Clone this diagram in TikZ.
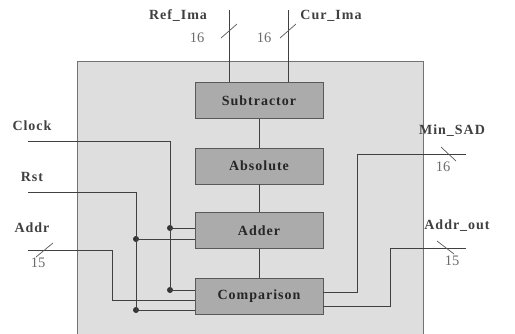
\documentclass[tikz,border=0pt]{standalone}
\usepackage{fontspec}
\setmainfont{Liberation Serif}
\newfontfamily\lsfont[LetterSpace=7]{Liberation Serif}
\begin{document}
\begin{tikzpicture}[x=1pt,y=-1pt,
  blk/.style={draw=black!65, line width=0.8pt, fill=black!33, minimum width=128pt, minimum height=36pt, inner sep=0pt,
    font=\lsfont\fontsize{14}{16}\selectfont\bfseries, text=black!85},
  wire/.style={draw=black!75, line width=0.9pt},
  lbl/.style={font=\lsfont\fontsize{14}{16}\selectfont\bfseries, text=black!75, inner sep=0pt},
  num/.style={font=\fontsize{14.5}{16}\selectfont, text=black!58, inner sep=0pt},
  dot/.style={circle, fill=black!80, inner sep=0pt, minimum size=6pt},
  tick/.style={draw=black!65, line width=0.7pt}]
\useasboundingbox (0,0) rectangle (515,333);
% outer box
\path[draw=black!55, fill=black!13, line width=0.9pt] (77,61) rectangle (423,340);
% blocks
\node[blk] (sub) at (259,100.5) {Subtractor};
\node[blk] (abs) at (259,166) {Absolute};
\node[blk] (add) at (259,230.5) {Adder};
\node[blk] (cmp) at (259,296) {Comparison};
\draw[wire] (sub) -- (abs);
\draw[wire] (abs) -- (add);
\draw[wire] (add) -- (cmp);
% top inputs
\coordinate (refin) at (229,10);
\coordinate (curin) at (288,10);
\draw[wire] (refin) -- (refin |- sub.north);
\draw[wire] (curin) -- (curin |- sub.north);
\draw[tick] (221,38) -- (237,24);
\draw[tick] (280,38) -- (296,24);
\node[lbl] (lref) at (178,16) {Ref\_Ima};
\node[lbl] (lcur) at (331,16) {Cur\_Ima};
\node[num] (n1) at (197,38) {16};
\node[num] (n2) at (264,38) {16};
% left inputs
\coordinate (clkin) at (28,141);
\coordinate (rstin) at (28,192);
\coordinate (addrin) at (28,250);
\node[dot] (d1) at (170,228) {};
\node[dot] (d2) at (170,290) {};
\node[dot] (d3) at (136,239) {};
\node[dot] (d4) at (136,310) {};
\coordinate (addrbend) at (112,250);
\coordinate (addrcmp) at (195,300.7);
\draw[wire] (clkin) -| (d2.center) -- (d2 -| cmp.west);
\draw[wire] (d1.center) -- (d1 -| add.west);
\draw[wire] (rstin) -| (d4.center) -- (d4 -| cmp.west);
\draw[wire] (d3.center) -- (d3 -| add.west);
\draw[wire] (addrin) -- (addrbend) |- (addrcmp);
\draw[tick] (36,257) -- (53,243);
\node[lbl] (lclk) at (32,126) {Clock};
\node[lbl] (lrst) at (32,177) {Rst};
\node[lbl] (laddr) at (32,228) {Addr};
\node[num] (n3) at (38,263) {15};
% right outputs
\coordinate (minsrc) at (323,292);
\coordinate (minout) at (466,154);
\coordinate (aosrc) at (323,306);
\coordinate (aoout) at (466,248);
\draw[wire] (minsrc) -| (357,154) -- (minout);
\draw[wire] (aosrc) -| (390,248) -- (aoout);
\draw[tick] (441,147) -- (456,161);
\draw[tick] (437,241) -- (454,254);
\node[lbl] (lmin) at (452,131) {Min\_SAD};
\node[num] (n4) at (443,167) {16};
\node[lbl] (lao) at (457,226) {Addr\_out};
\node[num] (n5) at (452,261) {15};
\end{tikzpicture}
\end{document}
